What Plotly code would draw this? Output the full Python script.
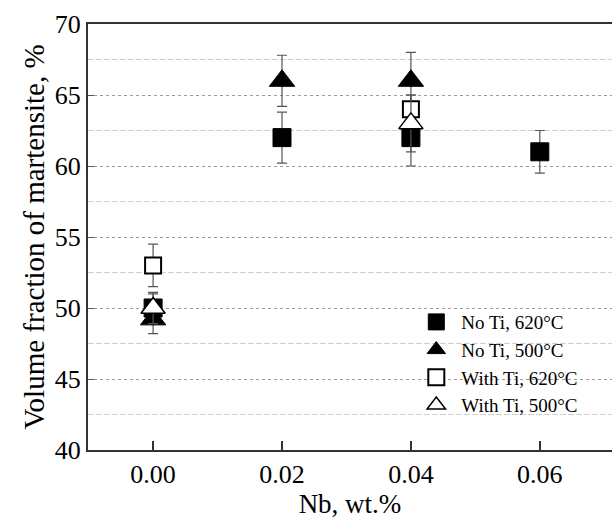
import plotly.graph_objects as go

nb = [0.00, 0.02, 0.04, 0.06]
noti_620 = [50.0, 62.0, 62.0, 61.0]
noti_620_err = [1.0, 1.8, 2.0, 1.5]
noti_500_x = [0.00, 0.02, 0.04]
noti_500 = [49.2, 66.0, 66.0]
noti_500_err = [1.0, 1.8, 2.0]
ti_x = [0.00, 0.04]
ti_620 = [53.0, 64.0]
ti_620_err = [1.5, 1.0]
ti_500 = [50.0, 63.0]
ti_500_err = [1.1, 2.0]

font_family = "Liberation Serif, Times New Roman, serif"

def eb(arr):
    return dict(type="data", array=arr, visible=True, color="#555555", thickness=1.2, width=5)

fig = go.Figure()
fig.add_trace(go.Scatter(x=nb, y=noti_620, mode="markers", name="No Ti, 620°C",
                         error_y=eb(noti_620_err),
                         marker=dict(symbol="square", size=18, color="black", line=dict(color="black", width=1))))
fig.add_trace(go.Scatter(x=noti_500_x, y=noti_500, mode="markers", name="No Ti, 500°C",
                         error_y=eb(noti_500_err),
                         marker=dict(symbol="triangle-up", size=22, color="black", line=dict(color="black", width=1))))
fig.add_trace(go.Scatter(x=ti_x, y=ti_620, mode="markers", name="With Ti, 620°C",
                         error_y=eb(ti_620_err),
                         marker=dict(symbol="square", size=16, color="white", line=dict(color="black", width=2))))
fig.add_trace(go.Scatter(x=ti_x, y=ti_500, mode="markers", name="With Ti, 500°C",
                         error_y=eb(ti_500_err),
                         marker=dict(symbol="triangle-up", size=21, color="white", line=dict(color="black", width=1.5))))

fig.update_layout(
    width=612, height=520,
    margin=dict(l=88, r=0, t=24, b=70),
    paper_bgcolor="white", plot_bgcolor="white",
    font=dict(family=font_family, size=26, color="black"),
    showlegend=True,
    legend=dict(x=0.617, y=0.345, xanchor="left", yanchor="top",
                bgcolor="rgba(0,0,0,0)", font=dict(size=19, family=font_family),
                tracegroupgap=0, itemsizing="trace", itemwidth=40),
)
fig.update_xaxes(
    range=[-0.0101, 0.0712],
    tickvals=nb, ticktext=["0.00", "0.02", "0.04", "0.06"],
    ticks="inside", ticklen=9, tickwidth=1.5, tickcolor="#333333",
    showline=True, linecolor="#333333", linewidth=2, mirror=True,
    showgrid=False, zeroline=False,
    title=dict(text="Nb, wt.%", font=dict(size=27), standoff=3),
    tickfont=dict(size=26),
)
fig.update_yaxes(
    range=[40, 70], dtick=5,
    ticks="inside", ticklen=6, tickwidth=1.2, tickcolor="#555555",
    showline=True, linecolor="#333333", linewidth=2, mirror=False,
    showgrid=True, gridcolor="#9a9a9a", gridwidth=1, griddash="3px,3px",
    minor=dict(dtick=2.5, showgrid=True, gridcolor="#d0d0d0", gridwidth=1, griddash="6px,2px"),
    zeroline=False,
    title=dict(text="Volume fraction of martensite, %", font=dict(size=29), standoff=2),
    tickfont=dict(size=26),
)

fig.write_html("out.html")
